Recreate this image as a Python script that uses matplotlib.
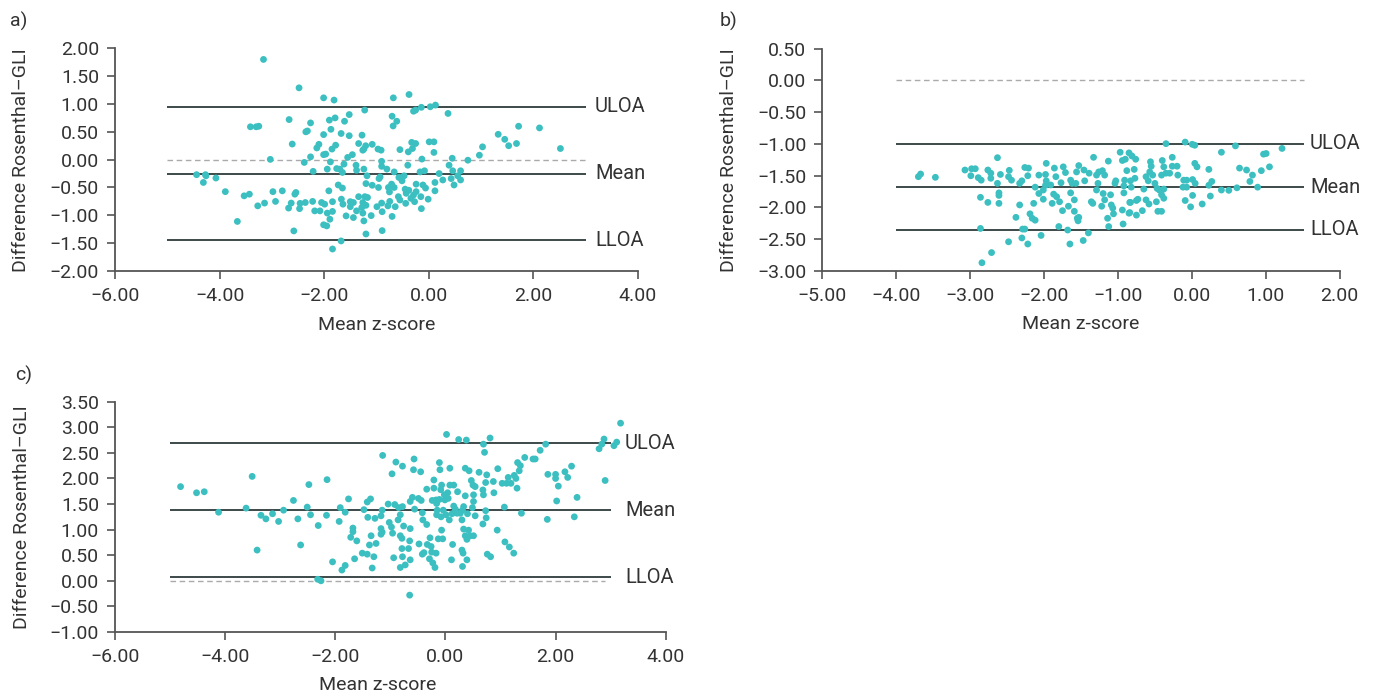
import matplotlib.pyplot as plt
from matplotlib.ticker import FuncFormatter, MultipleLocator

plt.rcParams['font.family'] = ['Roboto', 'DejaVu Sans']

# a) mean z-score vs difference Rosenthal-GLI
a_points = [
    (-3.16, 1.80), (-2.48, 1.29), (-2.01, 1.11), (-1.81, 1.07), (-1.52, 0.81),
    (-1.79, 0.75), (-1.90, 0.71), (-1.61, 0.69), (-2.67, 0.72), (-2.26, 0.66),
    (-3.41, 0.59), (-3.30, 0.59), (-3.25, 0.60), (-2.32, 0.515), (-2.35, 0.50),
    (-1.87, 0.545), (-2.01, 0.45), (-1.675, 0.47), (-1.52, 0.43), (-2.61, 0.28),
    (-2.10, 0.275), (-2.14, 0.21), (-1.78, 0.26), (-1.85, 0.19), (-1.34, 0.29),
    (-2.01, 0.09), (-1.97, 0.10), (-2.26, 0.05), (-1.46, 0.09), (-1.55, 0.04),
    (-3.03, 0.005), (-2.38, -0.05), (-1.88, -0.04), (-1.62, -0.08), (-1.39, -0.10),
    (-2.21, -0.21), (-1.94, -0.17), (-1.76, -0.16), (-1.65, -0.23), (-1.70, -0.17),
    (-1.38, -0.19), (-4.44, -0.27), (-4.27, -0.27), (-4.26, -0.29), (-4.31, -0.41),
    (-4.07, -0.33), (-3.89, -0.575), (-3.53, -0.65), (-3.43, -0.62), (-3.27, -0.83),
    (-3.14, -0.78), (-2.98, -0.575), (-2.93, -0.75), (-2.80, -0.56), (-2.54, -0.59),
    (-2.56, -0.62), (-3.66, -1.11), (-2.68, -0.87), (-2.63, -0.78), (-2.47, -0.88),
    (-2.46, -0.785), (-2.36, -0.77), (-2.22, -0.75), (-2.58, -1.28), (-2.05, -0.77),
    (-1.99, -0.80), (-1.84, -0.755), (-1.91, -0.56), (-1.73, -0.455), (-1.65, -0.51),
    (-1.67, -0.71), (-1.64, -0.80), (-2.18, -0.92), (-2.08, -0.92), (-1.94, -0.96),
    (-1.84, -0.93), (-1.89, -1.07), (-2.01, -1.17), (-1.95, -1.19), (-1.58, -1.01),
    (-1.50, -0.845), (-1.44, -0.77), (-1.44, -1.04), (-1.34, -0.665), (-1.38, -0.92),
    (-1.675, -1.46), (-1.84, -1.605), (-1.50, -0.755),
    (-0.676, 1.11), (-0.376, 1.17), (-1.224, 0.89), (-0.29, 0.87), (-0.25, 0.89),
    (-0.14, 0.94), (0.03, 0.95), (0.13, 0.98), (0.37, 0.83), (-0.70, 0.78),
    (-0.61, 0.69), (-0.68, 0.605), (-1.275, 0.44), (-1.205, 0.25), (-1.24, 0.19),
    (-1.26, 0.17), (-1.08, 0.275), (-0.97, 0.19), (-0.91, 0.17), (-0.55, 0.18),
    (-0.39, 0.14), (-0.325, 0.31), (-0.25, 0.29), (0.01, 0.32), (0.10, 0.32),
    (0.10, 0.13), (-0.31, 0.20), (-0.13, 0.01), (-0.40, -0.10), (-0.90, -0.03),
    (-0.90, -0.12), (-0.80, -0.17), (-1.24, -0.17), (-1.18, -0.29), (-0.66, -0.22),
    (-0.165, -0.22), (-0.08, -0.20), (-0.57, -0.32), (-0.47, -0.29), (-0.51, -0.38),
    (-0.93, -0.31), (-0.95, -0.34), (-1.20, -0.43), (-1.08, -0.46), (-0.96, -0.50),
    (-0.71, -0.44), (-0.66, -0.50), (-0.75, -0.58), (-0.24, -0.44), (-0.11, -0.455),
    (-0.06, -0.51), (-0.45, -0.53), (-0.38, -0.55), (0.12, -0.41), (0.12, -0.56),
    (0.20, -0.25), (0.27, -0.365), (0.39, -0.10), (0.45, 0.025), (0.46, -0.20),
    (0.43, -0.34), (0.485, -0.455), (0.555, -0.29), (0.61, -0.20), (0.61, -0.365),
    (0.75, -0.01), (0.97, 0.08), (1.03, 0.23), (1.33, 0.455), (1.455, 0.365),
    (1.53, 0.25), (1.68, 0.29), (1.72, 0.60), (2.12, 0.57), (2.52, 0.20),
    (-1.22, -0.665), (-1.17, -0.68), (-1.26, -0.77), (-1.20, -0.82), (-1.28, -0.86),
    (-1.26, -0.96), (-1.10, -1.005), (-1.24, -1.10), (-1.20, -1.335), (-0.89, -1.275),
    (-0.70, -1.02), (-0.99, -0.845), (-0.90, -0.78), (-0.89, -0.935), (-0.78, -0.83),
    (-0.745, -0.75), (-0.64, -0.845), (-0.58, -0.665), (-0.55, -0.725), (-0.44, -0.785),
    (-0.43, -0.605), (-0.34, -0.695), (-0.29, -0.635), (-0.27, -0.755), (-0.24, -0.575),
    (-0.15, -0.665), (-0.14, -0.88), (-0.01, -0.71), (-0.53, -0.325), (-0.77, -0.50),
]

# b)
b_points = [
    (-3.70, -1.515), (-3.67, -1.473), (-3.47, -1.525),
    (-3.07, -1.41), (-2.98, -1.39), (-2.93, -1.39), (-2.99, -1.50), (-2.89, -1.53),
    (-2.85, -1.57), (-2.76, -1.41), (-2.72, -1.46), (-2.72, -1.54), (-2.63, -1.216),
    (-2.59, -1.48), (-2.47, -1.415), (-2.48, -1.515), (-2.44, -1.57), (-2.63, -1.62),
    (-2.61, -1.77), (-2.61, -1.81), (-2.61, -1.935), (-2.86, -1.84), (-2.76, -1.92),
    (-2.86, -2.33), (-2.71, -2.71), (-2.84, -2.87), (-2.33, -1.96), (-2.38, -2.155),
    (-2.48, -2.54), (-2.29, -2.34), (-2.26, -2.34), (-2.30, -2.48), (-2.22, -2.575),
    (-2.33, -1.62), (-2.30, -1.58), (-2.26, -1.37), (-2.21, -1.38), (-2.22, -1.50),
    (-2.19, -2.10), (-2.16, -2.17), (-2.12, -2.20), (-2.14, -1.935), (-2.12, -1.68),
    (-2.07, -1.49), (-2.04, -2.44), (-2.07, -1.78), (-2.01, -1.725), (-1.98, -1.65),
    (-1.98, -1.48), (-1.97, -1.305), (-2.01, -1.87), (-1.97, -1.58), (-1.89, -1.935),
    (-1.86, -1.38), (-1.84, -1.515), (-1.91, -1.645), (-1.87, -1.79), (-1.83, -1.83),
    (-1.79, -1.91), (-1.77, -1.61), (-1.74, -1.36), (-1.71, -1.45), (-1.75, -2.05),
    (-1.80, -2.30), (-1.67, -1.98), (-1.68, -2.355), (-1.65, -2.575), (-1.64, -1.57),
    (-1.64, -1.77), (-1.62, -1.62), (-1.59, -1.88), (-1.59, -2.06), (-1.56, -1.44),
    (-1.53, -1.34), (-1.57, -1.62), (-1.55, -2.17), (-1.54, -2.21), (-1.53, -2.155),
    (-1.45, -1.58), (-1.47, -2.52), (-1.40, -2.40), (-1.46, -1.41), (-1.39, -1.46),
    (-1.36, -1.91), (-1.34, -1.935), (-1.33, -1.21), (-1.29, -1.49), (-1.27, -1.62),
    (-1.26, -1.44), (-1.21, -1.42), (-1.18, -1.49), (-1.13, -1.27), (-1.20, -1.78),
    (-1.18, -1.88), (-1.22, -1.98), (-1.10, -1.80), (-1.09, -1.96), (-1.07, -2.01),
    (-1.06, -2.10), (-1.14, -2.17), (-1.125, -2.30), (-1.03, -1.58), (-1.04, -1.62),
    (-0.97, -1.13), (-0.94, -1.26), (-0.90, -1.24), (-0.88, -1.42), (-0.91, -1.57),
    (-0.92, -1.66), (-0.92, -1.77), (-0.94, -2.04), (-0.93, -2.26), (-0.85, -1.14),
    (-0.84, -1.92), (-0.85, -2.09), (-1.29, -1.725),
    (-0.35, -0.995), (-0.09, -0.97), (0.005, -1.005), (0.04, -1.02), (-0.81, -1.19),
    (-0.76, -1.24), (-0.78, -1.40), (-0.77, -1.54), (-0.83, -1.58), (-0.82, -1.68),
    (-0.83, -1.92), (-0.75, -1.89), (-0.73, -1.87), (-0.84, -2.08), (-0.75, -2.12),
    (-0.67, -2.05), (-0.65, -1.71), (-0.62, -1.515), (-0.59, -1.58), (-0.56, -1.28),
    (-0.55, -1.35), (-0.57, -1.44), (-0.53, -1.49), (-0.50, -1.62), (-0.47, -1.70),
    (-0.40, -1.26), (-0.38, -1.36), (-0.41, -1.49), (-0.35, -1.46), (-0.38, -1.71),
    (-0.44, -1.725), (-0.41, -1.80), (-0.38, -1.855), (-0.48, -1.91), (-0.62, -1.88),
    (-0.58, -1.945), (-0.46, -2.06), (-0.41, -2.06), (-0.265, -1.21), (-0.265, -1.35),
    (-0.30, -1.46), (-0.20, -1.35), (-0.19, -1.49), (-0.11, -1.57), (-0.07, -1.57),
    (0.01, -1.56), (-0.12, -1.68), (-0.07, -1.68), (0.045, -1.62), (-0.09, -1.89),
    (0.01, -1.81), (-0.017, -1.99), (0.14, -1.945), (0.25, -1.82), (0.23, -1.65),
    (0.27, -1.59), (0.04, -1.305), (0.07, -1.36), (0.23, -1.40), (0.40, -1.13),
    (0.59, -1.03), (0.40, -1.725), (0.50, -1.73), (0.61, -1.69), (0.645, -1.38),
    (0.74, -1.41), (0.82, -1.49), (0.785, -1.59), (0.89, -1.68), (0.94, -1.42),
    (1.05, -1.36), (0.97, -1.16), (1.005, -1.15), (1.22, -1.07),
]

# c)
c_points = [
    (-4.81, 1.84), (-4.52, 1.72), (-4.38, 1.74), (-4.12, 1.34), (-3.51, 2.04),
    (-3.62, 1.42), (-3.42, 0.60), (-3.35, 1.28), (-3.26, 1.21), (-3.14, 1.31),
    (-3.03, 1.16), (-2.94, 1.38), (-2.76, 1.57), (-2.68, 1.21), (-2.63, 0.70),
    (-2.51, 1.44), (-2.48, 1.88), (-2.45, 1.29), (-2.31, 1.08), (-2.32, 0.03),
    (-2.26, 0.00), (-2.15, 1.976), (-2.16, 1.28), (-2.05, 0.37), (-1.93, 1.16),
    (-1.91, 1.43), (-1.88, 0.21), (-1.82, 0.30), (-1.82, 1.34), (-1.76, 1.60),
    (-1.72, 0.85), (-1.68, 1.03), (-1.68, 0.96), (-1.61, 0.78), (-1.65, 0.43),
    (-1.51, 0.54), (-1.42, 0.52), (-1.48, 1.39), (-1.42, 1.54), (-1.36, 1.60),
    (-1.41, 1.24), (-1.38, 0.70), (-1.35, 0.88), (-1.30, 0.47), (-1.33, 0.25),
    (-1.28, 1.22), (-1.26, 0.73), (-1.17, 1.27), (-1.15, 1.38), (-1.14, 2.45),
    (-1.04, 1.50), (-0.97, 2.09), (-0.90, 2.32), (-0.78, 2.24), (-1.17, 1.02),
    (-1.17, 0.91), (-1.15, 0.95), (-1.02, 1.14), (-0.98, 1.05), (-0.96, 0.93),
    (-0.94, 0.45), (-0.92, 1.49), (-0.86, 1.19), (-0.82, 1.29), (-0.82, 0.88),
    (-0.79, 0.83), (-0.79, 0.63), (-0.78, 0.47), (-0.82, 0.26), (-0.76, 1.07),
    (-0.85, 1.43), (-0.78, 1.45),
    (0.02, 2.86), (0.24, 2.76), (0.38, 2.75), (0.81, 2.79), (0.69, 2.67),
    (0.71, 2.51), (3.18, 3.08), (2.88, 2.77), (2.84, 2.67), (2.79, 2.58),
    (3.06, 2.64), (3.11, 2.71), (1.82, 2.67), (1.72, 2.55), (1.59, 2.38),
    (1.63, 2.38), (1.44, 2.41), (1.31, 2.31), (1.36, 2.25), (1.34, 2.15),
    (1.25, 2.06), (1.28, 2.00), (1.30, 1.81), (1.14, 2.02), (1.19, 1.905),
    (1.11, 1.905), (1.03, 1.905), (0.95, 2.19), (0.87, 1.94), (0.88, 1.72),
    (0.73, 1.92), (0.68, 1.775), (0.69, 1.68), (0.61, 2.12), (0.43, 2.15),
    (0.36, 2.20), (0.47, 1.96), (0.50, 1.87), (0.54, 1.84), (0.51, 1.68),
    (0.51, 1.55), (0.49, 1.43), (0.36, 1.66), (0.33, 1.45), (0.31, 1.38),
    (0.40, 1.31), (0.54, 1.27), (0.74, 1.23), (0.68, 1.11), (0.73, 1.37),
    (0.94, 0.99), (1.07, 1.44), (1.38, 1.32), (0.08, 1.87), (0.15, 1.87),
    (0.22, 1.74), (0.04, 1.72), (-0.02, 1.68), (-0.07, 1.87), (-0.085, 1.78),
    (-0.11, 1.59), (-0.01, 1.58), (0.05, 1.61), (-0.17, 1.58), (-0.16, 1.51),
    (-0.24, 1.57), (-0.34, 1.79), (-0.21, 1.81), (-0.21, 1.97), (-0.11, 2.31),
    (-0.10, 2.17), (0.08, 2.20), (-0.57, 2.38), (-0.58, 2.17), (-0.45, 2.13),
    (-0.49, 1.61), (-0.44, 1.57), (-0.60, 1.63), (-0.64, 1.55), (-0.56, 1.40),
    (-0.42, 1.33), (-0.41, 1.19), (-0.34, 1.10), (-0.16, 1.29), (-0.08, 1.25),
    (0.01, 1.29), (0.12, 1.31), (0.21, 1.32), (0.07, 1.19), (-0.15, 1.38),
    (-0.04, 1.38), (0.15, 1.46), (0.18, 1.40), (0.27, 1.32), (0.30, 1.19),
    (0.33, 1.01), (0.42, 0.99), (0.36, 0.88), (0.45, 0.88), (0.51, 0.88),
    (0.39, 0.81), (0.30, 0.60), (0.32, 0.54), (0.39, 0.41), (0.31, 0.28),
    (0.13, 0.71), (0.11, 0.41), (-0.07, 0.99), (-0.13, 0.82), (-0.05, 0.82),
    (-0.28, 0.84), (-0.33, 0.71), (-0.26, 0.67), (-0.17, 0.54), (-0.25, 0.56),
    (-0.39, 0.55), (-0.42, 0.52), (-0.48, 0.72), (-0.65, 0.78), (-0.67, 0.63),
    (-0.64, 0.41), (-0.73, 0.31), (-0.29, 0.43), (-0.23, 0.35), (-0.19, 0.26),
    (-0.65, -0.28), (-0.64, 1.02), (0.76, 0.52), (0.82, 0.47), (1.08, 0.76),
    (1.16, 0.66), (1.24, 0.54), (1.86, 2.08), (2.00, 2.08), (2.00, 2.00),
    (2.05, 1.85), (2.17, 2.13), (2.22, 2.02), (2.29, 2.24), (2.02, 1.56),
    (2.39, 1.63), (1.85, 1.20), (2.34, 1.25), (2.90, 1.96), (0.75, 2.07),
]

# ULOA, Mean, LLOA
a_lines = [0.95, -0.25, -1.45]
b_lines = [-1.00, -1.68, -2.35]
c_lines = [2.69, 1.38, 0.07]
line_names = ['ULOA', 'Mean', 'LLOA']

DOT = '#3cbfc0'
LINE = '#2e3c3c'
AXC = '#555555'
TXT = '#333333'
FS = 14


def fmt(v, pos):
    return f"{v:.2f}".replace('-', '\u2212')


def panel(ax, pts, lines, xlim, ylim, ystep, lx, line_x0, line_x1, zero_x1, label_x):
    ax.set_xlim(*xlim)
    ax.set_ylim(*ylim)
    for s in ['top', 'right']:
        ax.spines[s].set_visible(False)
    for s in ['left', 'bottom']:
        ax.spines[s].set_color(AXC)
        ax.spines[s].set_linewidth(1.3)
    ax.xaxis.set_major_locator(MultipleLocator(lx))
    ax.yaxis.set_major_locator(MultipleLocator(ystep))
    ax.xaxis.set_major_formatter(FuncFormatter(fmt))
    ax.yaxis.set_major_formatter(FuncFormatter(fmt))
    ax.tick_params(length=5.5, width=1.2, color=AXC, labelsize=FS,
                   labelcolor=TXT, pad=6)
    ax.hlines(0, line_x0, zero_x1, colors='#aaaaaa', linewidth=1.0,
              linestyles=(0, (4, 2.6)), zorder=1)
    for v, name in zip(lines, line_names):
        ax.hlines(v, line_x0, line_x1, colors=LINE, linewidth=1.3, zorder=2)
        ax.text(label_x, v, name, ha='left', va='center', fontsize=FS + 0.5,
                color=TXT, clip_on=False)
    xs = [p[0] for p in pts]
    ys = [p[1] for p in pts]
    ax.scatter(xs, ys, s=24, color=DOT, edgecolors='none', zorder=3,
               clip_on=False)
    ax.set_ylabel('Difference Rosenthal\u2013GLI', fontsize=FS, color=TXT)
    ax.set_xlabel('Mean z-score', fontsize=FS, color=TXT)


fig = plt.figure(figsize=(13.76, 6.97), dpi=100)

ax_a = fig.add_axes([0.0836, 0.6112, 0.3799, 0.3195])
panel(ax_a, a_points, a_lines, (-6, 4), (-2, 2), 0.5, 2, -5, 3, 3, 3.18)
ax_a.yaxis.set_label_coords(-0.162, 0.5)
ax_a.xaxis.set_label_coords(0.5, -0.2)

ax_b = fig.add_axes([0.5976, 0.6112, 0.3760, 0.3189])
panel(ax_b, b_points, b_lines, (-5, 2), (-3, 0.5), 0.5, 1, -4, 1.52, 1.52, 1.60)
ax_b.yaxis.set_label_coords(-0.162, 0.5)
ax_b.xaxis.set_label_coords(0.5, -0.2)

ax_c = fig.add_axes([0.0836, 0.0933, 0.4002, 0.3304])
panel(ax_c, c_points, c_lines, (-6, 4), (-1, 3.5), 0.5, 2, -5, 3.0, 2.9, 3.26)
ax_c.yaxis.set_label_coords(-0.153, 0.5)
ax_c.xaxis.set_label_coords(0.477, -0.19)

fig.text(10 / 1376, 1 - 12 / 697, 'a)', ha='left', va='top', fontsize=FS, color=TXT)
fig.text(720 / 1376, 1 - 12 / 697, 'b)', ha='left', va='top', fontsize=FS, color=TXT)
fig.text(15 / 1376, 1 - 366 / 697, 'c)', ha='left', va='top', fontsize=FS, color=TXT)

fig.savefig('out.png', dpi=100)
